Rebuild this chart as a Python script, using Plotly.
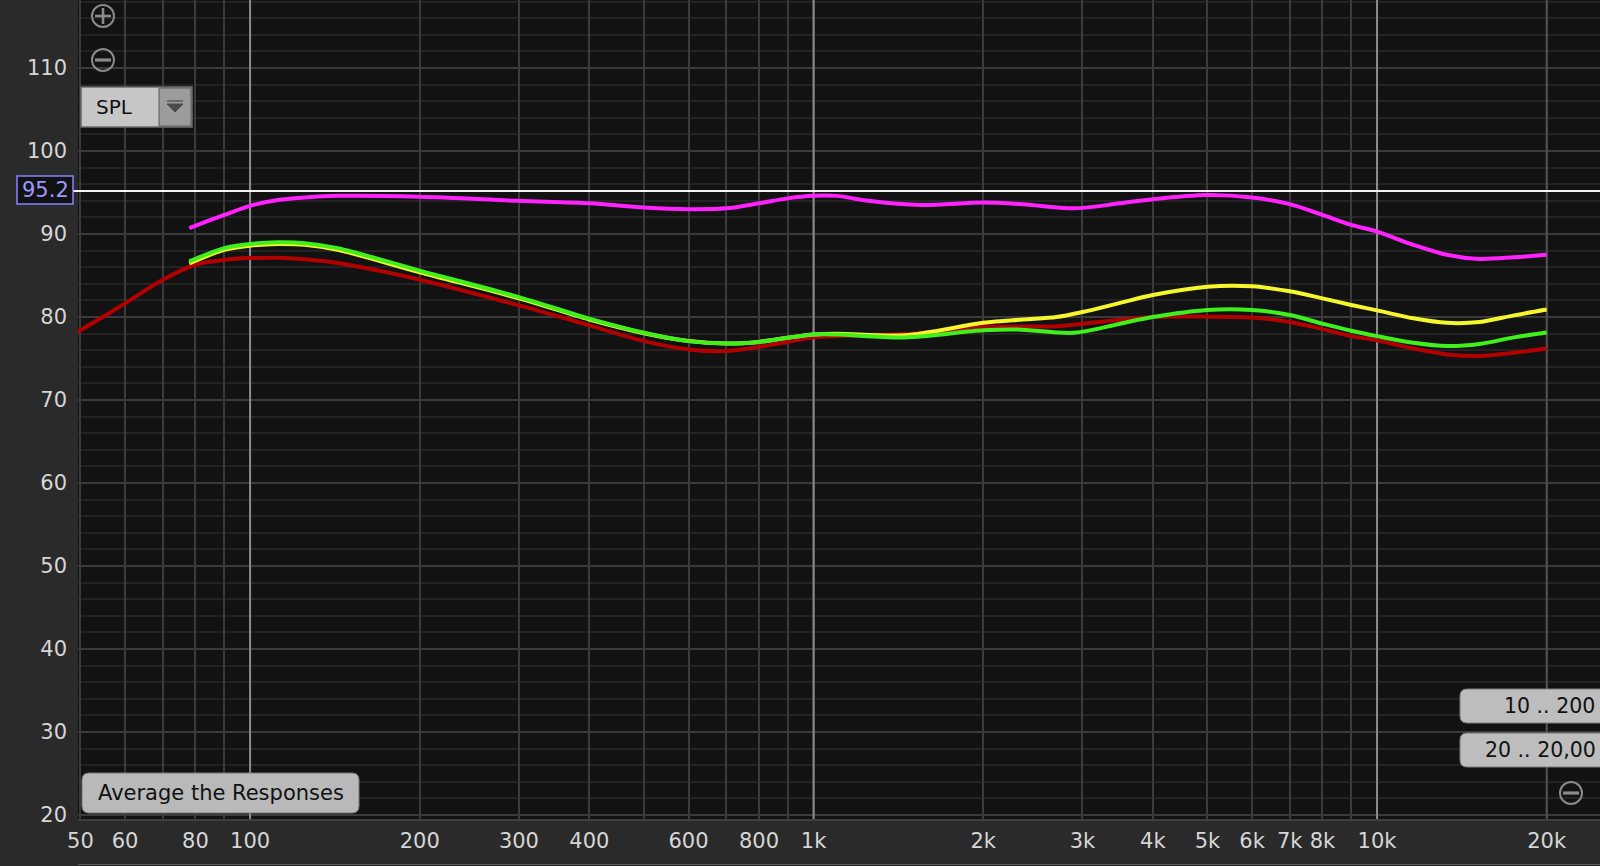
import plotly.graph_objects as go
import math

# ---------------- data ----------------
freq_red = [48, 50, 60, 70, 80, 90, 100, 112, 125, 143, 200, 300, 400, 500, 600, 700, 800, 900,
            1000, 1200, 1500, 2000, 2700, 3000, 4000, 5000, 6000, 7000, 8000, 9000, 10000,
            11600, 13300, 15200, 17500, 20000]
spl_red = [77.7, 78.4, 81.65, 84.5, 86.3, 86.9, 87.1, 87.15, 86.95, 86.5, 84.5, 81.4, 79.0, 77.1,
           76.1, 75.9, 76.4, 77.0, 77.55, 77.8, 78.0, 78.8, 78.9, 79.2, 80.0, 80.05, 79.95, 79.4,
           78.55, 77.7, 77.2, 76.2, 75.5, 75.3, 75.7, 76.2]

freq_yel = [78, 90, 100, 112, 125, 143, 200, 300, 400, 500, 600, 700, 800, 900, 1000, 1100, 1450,
            2000, 2350, 2700, 3000, 3500, 4000, 5000, 6000, 7000, 8000, 9000, 10000, 11600,
            13300, 15200, 17500, 20000]
spl_yel = [86.45, 88.1, 88.6, 88.8, 88.7, 88.1, 85.4, 82.25, 79.7, 78.05, 77.1, 76.8, 77.0, 77.5,
           77.9, 78.0, 77.8, 79.3, 79.7, 80.0, 80.6, 81.7, 82.65, 83.65, 83.7, 83.1, 82.25, 81.45,
           80.8, 79.85, 79.3, 79.4, 80.2, 80.9]

freq_grn = [78, 90, 100, 112, 125, 143, 200, 300, 400, 500, 600, 700, 800, 900, 1000, 1100, 1450,
            2000, 2300, 2900, 3500, 4000, 5000, 6000, 7000, 8000, 9000, 10000, 11600, 13300,
            15200, 17500, 20000]
spl_grn = [86.7, 88.3, 88.8, 89.0, 88.9, 88.3, 85.6, 82.4, 79.8, 78.1, 77.1, 76.8, 77.0, 77.5,
           77.9, 77.9, 77.55, 78.4, 78.5, 78.1, 79.2, 80.0, 80.85, 80.85, 80.25, 79.2, 78.35,
           77.7, 76.9, 76.5, 76.75, 77.55, 78.15]

freq_mag = [78, 90, 100, 112, 125, 143, 200, 300, 400, 500, 600, 700, 800, 900, 1000, 1100, 1250,
            1550, 2000, 2350, 2900, 3500, 4000, 5000, 6000, 7000, 8000, 9000, 10000, 11600,
            13300, 15200, 17500, 20000]
spl_mag = [90.7, 92.3, 93.4, 94.1, 94.4, 94.6, 94.5, 94.0, 93.7, 93.2, 93.0, 93.1, 93.7, 94.3,
           94.6, 94.6, 94.0, 93.5, 93.8, 93.6, 93.1, 93.7, 94.2, 94.7, 94.4, 93.6, 92.3, 91.1,
           90.3, 88.7, 87.5, 87.0, 87.2, 87.5]

cursor_spl = 95.2

x_grid_vals = [50, 60, 70, 80, 90, 100, 200, 300, 400, 500, 600, 700, 800, 900,
               1000, 2000, 3000, 4000, 5000, 6000, 7000, 8000, 9000, 10000, 20000]
x_grid_text = ["50", "60", "", "80", "", "100", "200", "300", "400", "", "600", "", "800", "",
               "1k", "2k", "3k", "4k", "5k", "6k", "7k", "8k", "", "10k", "20k"]
x_bright = [100, 1000, 10000]
x_edge = [20000]
y_tick_vals = [20, 30, 40, 50, 60, 70, 80, 90, 100, 110]

# ---------------- layout geometry ----------------
W, H = 1600, 866
PL, PR, PT, PB = 78, 1600, 0, 819
X_RANGE = [math.log10(49.5), math.log10(24870)]
Y_RANGE = [19.52, 118.2]


def px(x):
    return (x - PL) / (PR - PL)


def py(y):
    return (PB - y) / (PB - PT)


FONT = "DejaVu Sans"

fig = go.Figure()

# emphasised vertical grid lines (drawn above the regular grid, below the curves)
for v in x_bright:
    fig.add_trace(go.Scatter(x=[v, v], y=Y_RANGE, mode="lines", line=dict(color="#8c8c8c", width=2),
                             hoverinfo="skip", showlegend=False, cliponaxis=True))
for v in x_edge:
    fig.add_trace(go.Scatter(x=[v, v], y=Y_RANGE, mode="lines", line=dict(color="#505050", width=2),
                             hoverinfo="skip", showlegend=False, cliponaxis=True))

series = [
    (freq_red, spl_red, "#b30000"),
    (freq_yel, spl_yel, "#f6f62c"),
    (freq_grn, spl_grn, "#3ff01c"),
    (freq_mag, spl_mag, "#ff22ff"),
]
for fx, fy, col in series:
    fig.add_trace(go.Scatter(x=fx, y=fy, mode="lines",
                             line=dict(color=col, width=4, shape="spline", smoothing=0.9),
                             hoverinfo="skip", showlegend=False))

shapes = []
# cursor line
shapes.append(dict(type="line", xref="paper", yref="y", x0=px(73), x1=1, y0=cursor_spl, y1=cursor_spl,
                   line=dict(color="#f4f4f4", width=2), layer="above"))
# cursor label box
shapes.append(dict(type="rect", xref="paper", yref="paper", x0=px(17), x1=px(73), y0=py(204), y1=py(176),
                   line=dict(color="#8484ff", width=1.5), fillcolor="#121212"))


def circle_icon(cx, cy, plus):
    r = 11
    out = [dict(type="circle", xref="paper", yref="paper", x0=px(cx - r), x1=px(cx + r),
                y0=py(cy + r), y1=py(cy - r), line=dict(color="#8a8a8a", width=2))]
    out.append(dict(type="line", xref="paper", yref="paper", x0=px(cx - 8), x1=px(cx + 8),
                    y0=py(cy), y1=py(cy), line=dict(color="#8a8a8a", width=3.2 if not plus else 2.6)))
    if plus:
        out.append(dict(type="line", xref="paper", yref="paper", x0=px(cx), x1=px(cx),
                        y0=py(cy + 8), y1=py(cy - 8), line=dict(color="#8a8a8a", width=2.6)))
    return out


shapes += circle_icon(103, 16, True)
shapes += circle_icon(103, 60, False)
shapes += circle_icon(1571, 793, False)


def rrect(x0, y0, x1, y1, r, fill, line):
    p = (f"M {px(x0 + r)},{py(y0)} L {px(x1 - r)},{py(y0)} Q {px(x1)},{py(y0)} {px(x1)},{py(y0 + r)} "
         f"L {px(x1)},{py(y1 - r)} Q {px(x1)},{py(y1)} {px(x1 - r)},{py(y1)} "
         f"L {px(x0 + r)},{py(y1)} Q {px(x0)},{py(y1)} {px(x0)},{py(y1 - r)} "
         f"L {px(x0)},{py(y0 + r)} Q {px(x0)},{py(y0)} {px(x0 + r)},{py(y0)} Z")
    return dict(type="path", xref="paper", yref="paper", path=p, fillcolor=fill,
                line=dict(color=line, width=1))


# SPL dropdown
shapes.append(dict(type="rect", xref="paper", yref="paper", x0=px(81), x1=px(192), y0=py(127), y1=py(87),
                   fillcolor="#c6c6c6", line=dict(color="#6c6c6c", width=1.5)))
shapes.append(dict(type="rect", xref="paper", yref="paper", x0=px(159), x1=px(191), y0=py(126), y1=py(88),
                   fillcolor="#9c9c9c", line=dict(color="#5a5a5a", width=1)))
shapes.append(dict(type="path", xref="paper", yref="paper",
                   path=f"M {px(167)},{py(104)} L {px(183)},{py(104)} L {px(175)},{py(112)} Z",
                   fillcolor="#4a4a4a", line=dict(color="#4a4a4a", width=1)))
shapes.append(dict(type="line", xref="paper", yref="paper", x0=px(167), x1=px(183), y0=py(101), y1=py(101),
                   line=dict(color="#5a5a5a", width=1.5)))

# Buttons
shapes.append(rrect(82, 773, 359, 813, 7, "#b9b9b9", "#7a7a7a"))
shapes.append(rrect(1460, 689, 1640, 723, 7, "#bdbdbd", "#7a7a7a"))
shapes.append(rrect(1460, 733, 1640, 767, 7, "#bdbdbd", "#7a7a7a"))

# bottom scrollbar edge
shapes.append(dict(type="line", xref="paper", yref="paper", x0=px(78), x1=1, y0=py(864.5), y1=py(864.5),
                   line=dict(color="#5c5c5c", width=1)))

annotations = [
    dict(text="95.2", xref="paper", yref="paper", x=px(45), y=py(190.5), xanchor="center", yanchor="middle",
         showarrow=False, font=dict(family=FONT, size=21, color="#9a9aff")),
    dict(text="SPL", xref="paper", yref="paper", x=px(94), y=py(107), xanchor="left", yanchor="middle",
         showarrow=False, font=dict(family=FONT, size=20, color="#111111")),
    dict(text="Average the Responses", xref="paper", yref="paper", x=px(220.5), y=py(793),
         xanchor="center", yanchor="middle", showarrow=False,
         font=dict(family=FONT, size=21, color="#111111")),
    dict(text="10 .. 200", xref="paper", yref="paper", x=px(1597), y=py(706), xanchor="right",
         yanchor="middle", showarrow=False, font=dict(family=FONT, size=20.5, color="#111111")),
    dict(text="20 .. 20,00", xref="paper", yref="paper", x=px(1598), y=py(750), xanchor="right",
         yanchor="middle", showarrow=False, font=dict(family=FONT, size=20.5, color="#111111")),
]

fig.update_layout(
    width=W, height=H,
    margin=dict(l=PL, r=W - PR, t=PT, b=H - PB, pad=0),
    paper_bgcolor="#2a2a2a",
    plot_bgcolor="#121212",
    showlegend=False,
    shapes=shapes,
    annotations=annotations,
    xaxis=dict(type="log", range=X_RANGE, tickmode="array", tickvals=x_grid_vals, ticktext=x_grid_text,
               showgrid=True, gridcolor="#3a3a3a", gridwidth=2, zeroline=False,
               showline=True, linecolor="#3e3e3e", linewidth=2, mirror=False,
               ticks="", ticklabelstandoff=2,
               tickfont=dict(family=FONT, size=21, color="#d6d6d6"), fixedrange=True),
    yaxis=dict(range=Y_RANGE, tickmode="array", tickvals=y_tick_vals,
               showgrid=True, gridcolor="#3a3a3a", gridwidth=2, zeroline=False,
               minor=dict(dtick=2, tick0=20, showgrid=True, gridcolor="#232323", gridwidth=2),
               showline=False, ticks="", ticklabelstandoff=10,
               tickfont=dict(family=FONT, size=21, color="#d6d6d6"), fixedrange=True),
)

fig.write_html("out.html", config={"displayModeBar": False},
               post_script="document.body.style.margin='0';document.body.style.overflow='hidden';")
